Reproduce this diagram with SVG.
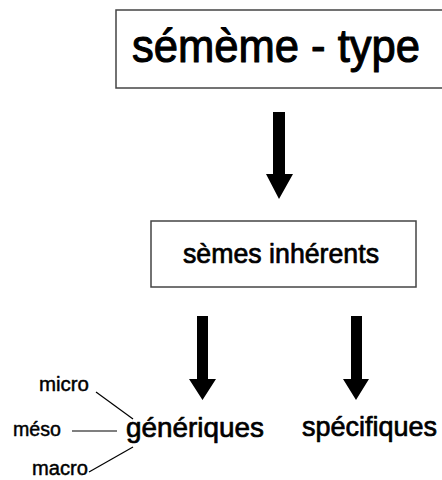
<svg xmlns="http://www.w3.org/2000/svg" width="442" height="480" viewBox="0 0 442 480">
  <style>
    .box { fill: #ffffff; stroke: #444444; stroke-width: 1.5; }
    .lbl { font-family: "Liberation Sans", "DejaVu Sans", sans-serif; fill: #000000; stroke: #000000; stroke-linejoin: round; }
    .big { stroke-width: 1.1; }
    .mid { stroke-width: 0.7; }
    .small { stroke-width: 0.45; }
    .arrow { fill: #000000; }
    .tie { stroke: #000000; stroke-width: 1.2; fill: none; }
  </style>
  <rect width="442" height="480" fill="#ffffff"/>

  <g id="sememe-type">
    <rect class="box" x="116" y="10" width="340" height="78"/>
    <text class="lbl big" x="132" y="62" font-size="47" textLength="288" lengthAdjust="spacingAndGlyphs">sémème - type</text>
  </g>

  <g id="semes-inherents">
    <rect class="box" x="151" y="221" width="265" height="66"/>
    <text class="lbl mid" x="183" y="263" font-size="27" textLength="196" lengthAdjust="spacingAndGlyphs">sèmes inhérents</text>
  </g>

  <g id="generiques">
    <text class="lbl mid" x="126" y="437" font-size="28" textLength="138" lengthAdjust="spacingAndGlyphs">génériques</text>
  </g>

  <g id="specifiques">
    <text class="lbl mid" x="302" y="436" font-size="28" textLength="135" lengthAdjust="spacingAndGlyphs">spécifiques</text>
  </g>

  <g id="micro">
    <text class="lbl small" x="39" y="391" font-size="20" textLength="50" lengthAdjust="spacingAndGlyphs">micro</text>
  </g>
  <g id="meso">
    <text class="lbl small" x="13" y="436" font-size="20" textLength="48" lengthAdjust="spacingAndGlyphs">méso</text>
  </g>
  <g id="macro">
    <text class="lbl small" x="32" y="475" font-size="20" textLength="56" lengthAdjust="spacingAndGlyphs">macro</text>
  </g>

  <g id="connectors">
    <!-- block arrows -->
    <polygon class="arrow" points="273,112 285,112 285,174 293,174 279,199 266,174 273,174"/>
    <polygon class="arrow" points="197,316 208,316 208,379 216,379 202.5,400 189,379 197,379"/>
    <polygon class="arrow" points="351,316 362,316 362,379 369,379 356,400 343,379 351,379"/>
    <!-- scale ties -->
    <line class="tie" x1="96" y1="392" x2="133" y2="419"/>
    <line class="tie" x1="72" y1="431" x2="117" y2="431"/>
    <line class="tie" x1="89" y1="472" x2="133" y2="447"/>
  </g>
</svg>
